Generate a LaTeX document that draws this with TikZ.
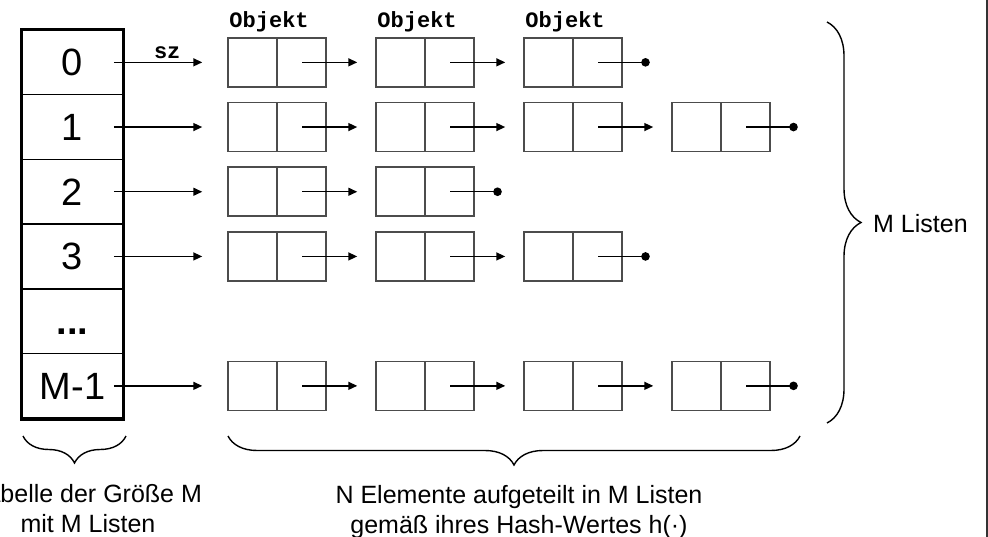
\documentclass[tikz,border=0pt]{standalone}
\usepackage{fontspec}
\setmainfont{Liberation Sans}
\setmonofont{Liberation Mono}
\usetikzlibrary{arrows.meta,decorations.pathreplacing}

\tikzset{
    zelle/.style={draw, line width=1.6pt, minimum width=101pt, minimum height=64.7pt,
        inner sep=0pt, text height=27pt, text depth=0pt, font=\fontsize{38}{40}\selectfont},
    elem/.style={draw=black!70, line width=1.5pt, minimum width=98pt, minimum height=49pt, inner sep=0pt,
        path picture={\draw[black!70, line width=1.5pt] (path picture bounding box.north) -- (path picture bounding box.south);}},
    zeiger/.style={line width=1.5pt, -{Triangle[length=9pt,width=8pt]}},
    ende/.style={line width=1.5pt, -{Circle[length=8.5pt]}},
    klammer/.style={line width=1.4pt, decorate, decoration={brace, amplitude=#1}},
    marke/.style={font=\ttfamily\bfseries\fontsize{22}{24}\selectfont, inner sep=0pt},
    beschr/.style={font=\fontsize{25}{30}\selectfont, align=center, inner sep=0pt}
}

\begin{document}
\begin{tikzpicture}[x=1pt, y=-1pt]
    \useasboundingbox (0,0) rectangle (988,537);
    \clip (0,0) rectangle (988,537);
    % Tabelle
    \foreach \r/\t in {0/0, 1/1, 2/2, 3/3, 4/\textbf{...}, 5/M-1}
        \node[zelle] (t\r) at (72.5, {62.35+\r*64.7}) {\t};
    \draw[line width=3pt] (t0.north west) rectangle (t5.south east);
    % Listen
    \foreach \r/\n in {0/3, 1/4, 2/2, 3/3, 5/4} {
        \foreach \k in {1,...,\n}
            \node[elem] (e\r-\k) at ({277+(\k-1)*148}, {62.35+\r*64.7}) {};
        \draw[zeiger, shorten >=25pt] ([xshift=-10pt]t\r.east) -- (e\r-1.west);
        \pgfmathtruncatemacro\m{\n-1}
        \foreach \k [evaluate=\k as \kk using int(\k+1)] in {1,...,\m}
            \draw[zeiger, shorten >=18pt] ([xshift=-24.5pt]e\r-\k.east) -- (e\r-\kk.west);
        % Listenende
        \coordinate (z\r) at ([xshift=27pt]e\r-\n.east);
        \draw[ende] ([xshift=-24.5pt]e\r-\n.east) -- (z\r);
    }
    % Beschriftungen oben
    \path (t0.east) -- (e0-1.west) node[marke, pos=0.42, above=3pt] (sz) {sz};
    \foreach \k in {1,2,3}
        \node[marke, anchor=base west] (obj\k) at ([xshift=2pt, yshift=10pt]e0-\k.north west) {Objekt};
    % Klammern
    \draw[klammer=27pt] (126,436) -- (23,436);
    \draw[klammer=29pt] (800,436) -- (228,436);
    \draw[klammer=34pt] (827,22) -- (827,423);
    \node[beschr, anchor=base] (tablabel) at (88,532) {Tabelle der Größe M\\mit M Listen};
    \node[beschr, anchor=base] (elemlabel) at (519,533) {N Elemente aufgeteilt in M Listen\\gemäß ihres Hash-Wertes h(·)};
    \node[beschr, anchor=base west] (listlabel) at (873,233) {M Listen};
    % Rand rechts
    \draw[black!80, line width=2pt] (986.5,0) -- (986.5,537);
\end{tikzpicture}
\end{document}
